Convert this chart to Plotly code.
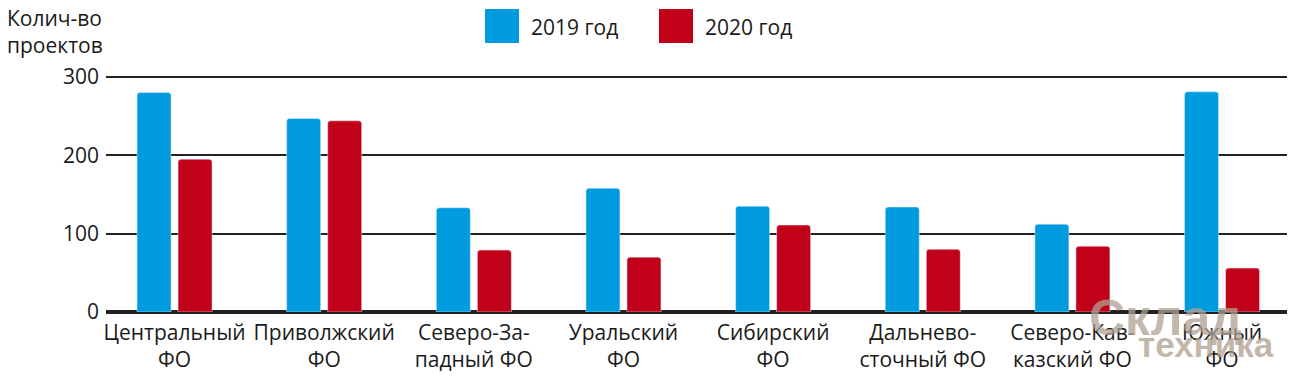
import plotly.graph_objects as go

regions = ["Центральный ФО", "Приволжский ФО", "Северо-Западный ФО", "Уральский ФО",
           "Сибирский ФО", "Дальневосточный ФО", "Северо-Кавказский ФО", "Южный ФО"]
tick_labels = ["Центральный<br>ФО", "Приволжский<br>ФО", "Северо-За-<br>падный ФО", "Уральский<br>ФО",
               "Сибирский<br>ФО", "Дальнево-<br>сточный ФО", "Северо-Кав-<br>казский ФО", "Южный<br>ФО"]
values_2019 = [280, 247, 133, 158, 135, 134, 112, 281]
values_2020 = [195, 244, 79, 70, 111, 80, 84, 56]
series_names = ["2019 год", "2020 год"]
y_ticks = [0, 100, 200, 300]

BLUE = "#009ADE"
RED = "#C1001A"
FONT = "Open Sans"

W, H = 1300, 376
L, R, T, B = 106, 13, 73, 64
pw, ph = W - L - R, H - T - B

def px_x(px):
    return (px - L) / pw

def px_y(py):
    return (H - B - py) / ph

x = list(range(len(regions)))
fig = go.Figure()
fig.add_trace(go.Bar(x=x, y=values_2019, name=series_names[0], marker_color=BLUE,
                     width=0.227, offset=-0.2506, showlegend=False))
fig.add_trace(go.Bar(x=x, y=values_2020, name=series_names[1], marker_color=RED,
                     width=0.227, offset=0.0236, showlegend=False))

# legend squares and labels
for i, (name, col) in enumerate(zip(series_names, [BLUE, RED])):
    x0 = 485 + i * 174
    fig.add_shape(type="rect", xref="paper", yref="paper",
                  x0=px_x(x0), x1=px_x(x0 + 34), y0=px_y(43), y1=px_y(9),
                  fillcolor=col, line_width=0)
    fig.add_annotation(xref="paper", yref="paper", x=px_x(x0 + 44), y=px_y(27),
                       text=name, showarrow=False, xanchor="left", yanchor="middle",
                       font=dict(family=FONT, size=21, color="#1a1a1a"))

# y-axis title
fig.add_annotation(xref="paper", yref="paper", x=px_x(5), y=px_y(2),
                   text="Колич-во<br>проектов", showarrow=False, xanchor="left", yanchor="top",
                   align="left", font=dict(family=FONT, size=21, color="#1a1a1a"))

# watermark
WM = "rgba(175,160,145,0.75)"
fig.add_annotation(xref="paper", yref="paper", x=px_x(1165), y=px_y(318),
                   text="Склад", showarrow=False, xanchor="center", yanchor="middle",
                   font=dict(family="Liberation Sans", size=50, color=WM, weight="bold"))
fig.add_annotation(xref="paper", yref="paper", x=px_x(1206), y=px_y(344),
                   text="техника", showarrow=False, xanchor="center", yanchor="middle",
                   font=dict(family="Liberation Sans", size=35, color=WM, weight="bold"))

fig.update_layout(
    width=W, height=H,
    margin=dict(l=L, r=R, t=T, b=B, pad=0, autoexpand=False),
    plot_bgcolor="white", paper_bgcolor="white",
    barmode="overlay",
    barcornerradius=3,
    font=dict(family=FONT, size=21, color="#1a1a1a"),
    xaxis=dict(range=[-0.458, 7.434], tickvals=x, ticktext=tick_labels,
               showgrid=False, zeroline=False, showline=False, ticks="", automargin=False,
               ticklabelstandoff=6,
               tickfont=dict(family=FONT, size=21, color="#1a1a1a"), fixedrange=True),
    yaxis=dict(range=[0, 305], tickvals=y_ticks, showgrid=True, gridcolor="#222222",
               gridwidth=1.5, zeroline=True, zerolinecolor="#222222", zerolinewidth=4,
               showline=False, ticks="", ticklabelstandoff=6, automargin=False,
               tickfont=dict(family=FONT, size=21, color="#1a1a1a"), fixedrange=True),
)

fig.write_html("out.html", config={"displayModeBar": False},
               post_script="document.body.style.margin='0';document.body.style.overflow='hidden';")
